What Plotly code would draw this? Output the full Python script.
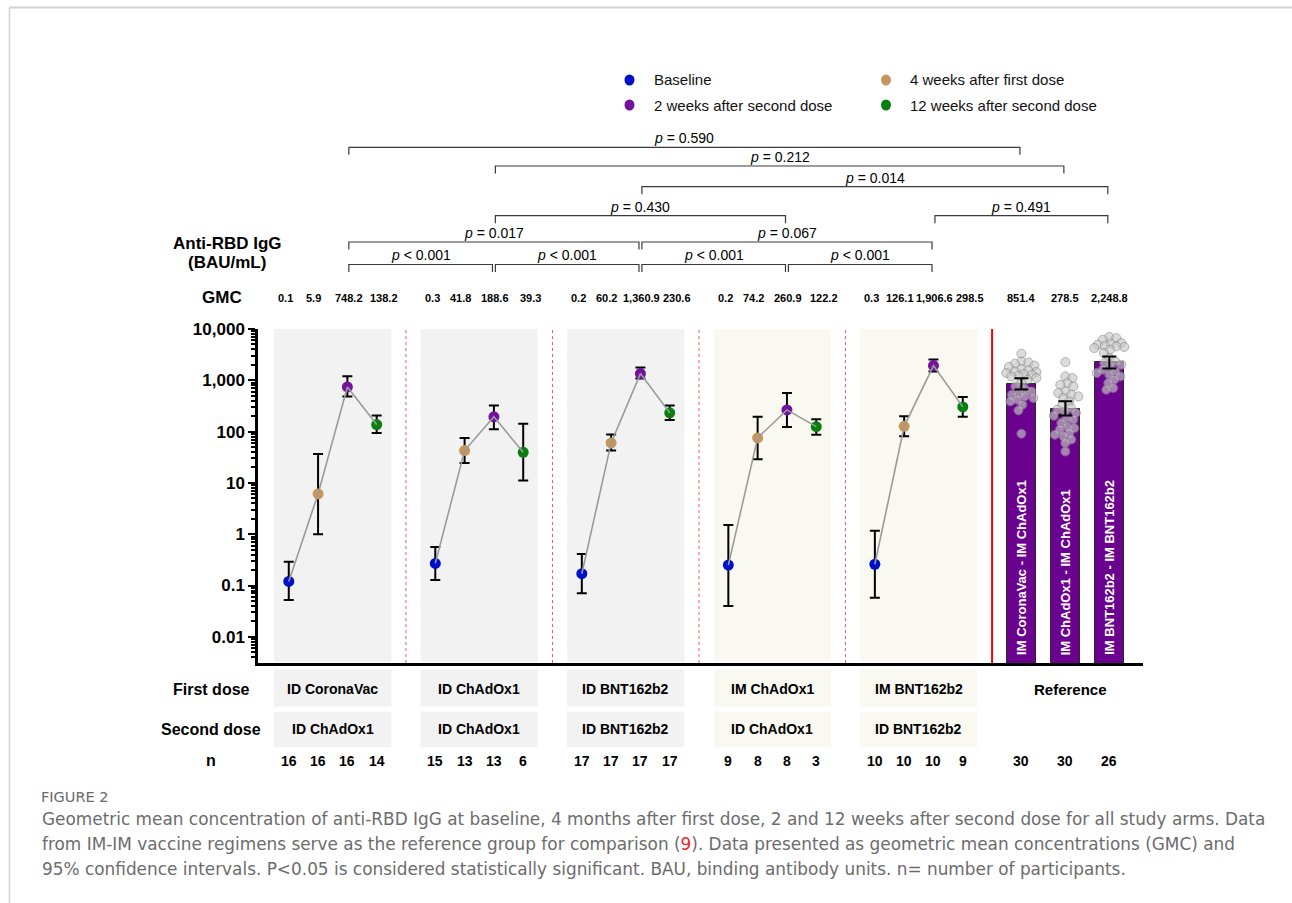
import math
import plotly.graph_objects as go

# ---------------- data ----------------
timepoints = ["Baseline", "4 weeks after first dose",
              "2 weeks after second dose", "12 weeks after second dose"]
first_dose = ["ID CoronaVac", "ID ChAdOx1", "ID BNT162b2", "IM ChAdOx1", "IM BNT162b2"]
second_dose = ["ID ChAdOx1", "ID ChAdOx1", "ID BNT162b2", "ID ChAdOx1", "ID BNT162b2"]

baseline = [0.12, 0.27, 0.17, 0.25, 0.26]
baseline_lo = [0.052, 0.128, 0.071, 0.040, 0.058]
baseline_hi = [0.29, 0.565, 0.41, 1.51, 1.17]
wk4_first = [6.1, 42.7, 60.3, 75.4, 127]
wk4_first_lo = [1.0, 24.5, 42.6, 28.8, 81]
wk4_first_hi = [36.7, 75, 87.5, 194, 199]
wk2_second = [743, 194, 1351, 265, 1936]
wk2_second_lo = [481, 111, 1080, 123, 1480]
wk2_second_hi = [1197, 321, 1770, 568, 2530]
wk12_second = [137, 39.5, 232, 125, 303]
wk12_second_lo = [94, 11.1, 169, 87, 194]
wk12_second_hi = [205, 143, 321, 174, 474]

gmc_labels = [["0.1", "5.9", "748.2", "138.2"],
              ["0.3", "41.8", "188.6", "39.3"],
              ["0.2", "60.2", "1,360.9", "230.6"],
              ["0.2", "74.2", "260.9", "122.2"],
              ["0.3", "126.1", "1,906.6", "298.5"]]
n_counts = [[16, 16, 16, 14], [15, 13, 13, 6], [17, 17, 17, 17], [9, 8, 8, 3], [10, 10, 10, 9]]

ref_names = ["IM CoronaVac - IM ChAdOx1", "IM ChAdOx1 - IM ChAdOx1", "IM BNT162b2 - IM BNT162b2"]
ref_gmc = [851.4, 278.5, 2248.8]
ref_gmc_labels = ["851.4", "278.5", "2,248.8"]
ref_lo = [659, 205, 1690]
ref_hi = [1094, 390, 2897]
ref_n = [30, 30, 26]
ref_individual = [
    [3300, 2330, 2230, 2110, 1930, 1820, 1660, 1560, 1490, 1450, 1390, 1330, 1290, 1230, 1190,
     1110, 1030, 885, 760, 676, 608, 565, 524, 486, 452, 419, 388, 334, 259, 91],
    [2270, 1190, 1110, 885, 820, 760, 608, 565, 524, 486, 452, 388, 334, 288, 267,
     248, 231, 204, 184, 171, 147, 126, 117, 109, 94, 87, 81, 70, 60, 41],
    [6970, 6660, 6180, 5330, 5170, 4940, 4730, 4590, 4460, 4260, 3950, 3400, 2720, 2330, 2170,
     2010, 1870, 1610, 1490, 1390, 1290, 1190, 1030, 885, 707, 655],
]

# comparisons: (left arm, right arm, label, bracket row)
comparisons = [
    ("g0", "g1", "p < 0.001", 0), ("g1", "g2", "p < 0.001", 0),
    ("g2", "g3", "p < 0.001", 0), ("g3", "g4", "p < 0.001", 0),
    ("g0", "g2", "p = 0.017", 1), ("g2", "g4", "p = 0.067", 1),
    ("g1", "g3", "p = 0.430", 2), ("g4", "r2", "p = 0.491", 2),
    ("g2", "r2", "p = 0.014", 3),
    ("g1", "r1", "p = 0.212", 4),
    ("g0", "r0", "p = 0.590", 5),
]

series_mid = [baseline, wk4_first, wk2_second, wk12_second]
series_lo = [baseline_lo, wk4_first_lo, wk2_second_lo, wk12_second_lo]
series_hi = [baseline_hi, wk4_first_hi, wk2_second_hi, wk12_second_hi]

# ---------------- styling / layout ----------------
tp_colors = ["#0010C8", "#C8965A", "#7412A0", "#0A7F10"]
bar_color = "#6B028F"
panel_fill = ["#F2F2F2", "#F2F2F2", "#F2F2F2", "#F9F8F1", "#F9F8F1"]
FONT = "Arial, Liberation Sans, sans-serif"
CAP_FONT = "DejaVu Sans, Open Sans, sans-serif"

W, H = 1292, 903
L, R, T, B = 258, 149, 329, 240
PW, PH = W - L - R, H - T - B
X0, X1 = -1.05, 29.15
Y0, Y1 = -2.51, 4.0
UNIT_PX = PW / (X1 - X0)
DEC_PX = PH / (Y1 - Y0)

GROUP_STEP = 5
ref_x = [25, 26.5, 28]
gmc_shift = [-0.1, -0.15, 0.05, 0.25]


def px_x(px):
    return (px - L) / PW


def px_y(py):
    return (H - B - py) / PH


def group_x(g, t):
    return GROUP_STEP * g + t


anchor_x = {f"g{g}": group_x(g, 2) for g in range(len(first_dose))}
anchor_x.update({f"r{i}": ref_x[i] for i in range(len(ref_x))})

fig = go.Figure()

# panel backgrounds, separators
shapes = []
for g in range(len(first_dose)):
    xa, xb = group_x(g, 0) - 0.5, group_x(g, 3) + 0.5
    shapes.append(dict(type="rect", xref="x", yref="paper", x0=xa, x1=xb, y0=0.004, y1=1,
                       fillcolor=panel_fill[g], line=dict(width=0), layer="below"))
    shapes.append(dict(type="rect", xref="x", yref="paper", x0=xa, x1=xb,
                       y0=px_y(706.7), y1=px_y(669.3), fillcolor=panel_fill[g],
                       line=dict(width=0), layer="below"))
    shapes.append(dict(type="rect", xref="x", yref="paper", x0=xa, x1=xb,
                       y0=px_y(747.3), y1=px_y(711.7), fillcolor=panel_fill[g],
                       line=dict(width=0), layer="below"))
    if g < len(first_dose) - 1:
        sep = group_x(g, 3) + (GROUP_STEP - 3) / 2
        shapes.append(dict(type="line", xref="x", yref="paper", x0=sep, x1=sep, y0=0, y1=1,
                           line=dict(color="#FF5A5A", width=1, dash="dot"), layer="below"))
# solid reference separator
shapes.append(dict(type="line", xref="x", yref="paper", x0=24, x1=24, y0=0, y1=1,
                   line=dict(color="#FF0000", width=2), layer="below"))

# ---------------- reference bars ----------------
fig.add_trace(go.Bar(x=ref_x, y=ref_gmc, width=1.0, marker=dict(color=bar_color,
                     line=dict(color="#2a2a2a", width=1)), showlegend=False, hoverinfo="skip"))


def swarm(values, mind=6.8, maxoff=15.0):
    ys = [math.log10(v) * DEC_PX for v in values]
    order = sorted(range(len(values)), key=lambda i: -values[i])
    cands = [0.0]
    k = 1
    while k * 0.5 <= maxoff:
        cands += [k * 0.5, -k * 0.5]
        k += 1
    placed = []
    offs = [0.0] * len(values)
    for i in order:
        best, bestd, bsel = None, -1, 0.0
        for s in cands:
            d = min([math.hypot(s - ox, ys[i] - oy) for ox, oy in placed] or [1e9])
            if d >= mind:
                best = s
                break
            if d > bestd:
                bestd, bsel = d, s
        if best is None:
            best = bsel
        placed.append((best, ys[i]))
        offs[i] = best / UNIT_PX
    return offs


for i, vals in enumerate(ref_individual):
    offs = swarm(vals)
    fig.add_trace(go.Scatter(x=[ref_x[i] + o for o in offs], y=vals, mode="markers",
                             marker=dict(size=9, color="rgb(200,200,200)", opacity=0.65,
                                         line=dict(color="rgb(135,135,135)", width=1)),
                             showlegend=False, hoverinfo="skip"))

fig.add_trace(go.Scatter(x=ref_x, y=ref_gmc, mode="markers", marker=dict(size=1, opacity=0),
                         error_y=dict(type="data", symmetric=False,
                                      array=[h - m for h, m in zip(ref_hi, ref_gmc)],
                                      arrayminus=[m - lo for m, lo in zip(ref_gmc, ref_lo)],
                                      color="black", thickness=2, width=7),
                         showlegend=False, hoverinfo="skip"))

# ---------------- time-course points ----------------
for t, name in enumerate(timepoints):
    xs = [group_x(g, t) for g in range(len(first_dose))]
    mid, lo, hi = series_mid[t], series_lo[t], series_hi[t]
    fig.add_trace(go.Scatter(
        x=xs, y=mid, mode="markers", name=name,
        marker=dict(size=11, color=tp_colors[t]),
        error_y=dict(type="data", symmetric=False,
                     array=[h - m for h, m in zip(hi, mid)],
                     arrayminus=[m - l_ for m, l_ in zip(mid, lo)],
                     color="black", thickness=2, width=5),
        showlegend=False))

for g in range(len(first_dose)):
    fig.add_trace(go.Scatter(x=[group_x(g, t) for t in range(4)],
                             y=[series_mid[t][g] for t in range(4)], mode="lines",
                             line=dict(color="#9a9a9a", width=1.6),
                             showlegend=False, hoverinfo="skip"))

# ---------------- annotations ----------------
ann = []


def txt(x, y, text, size, xref="x", bold=False, color="black", xanchor="center",
        family=FONT, **kw):
    ann.append(dict(x=x, y=y, xref=xref, yref="paper", text=(f"<b>{text}</b>" if bold else text),
                    showarrow=False, xanchor=xanchor, yanchor=kw.pop("yanchor", "middle"),
                    font=dict(size=size, color=color, family=family), **kw))


# legend (manual, two columns)
leg_pos = [(629.5, 80), (886, 80), (629.5, 105), (886, 105)]
for t in range(len(timepoints)):
    lx, ly = leg_pos[t]
    shapes.append(dict(type="circle", xref="paper", yref="paper",
                       xsizemode="pixel", ysizemode="pixel",
                       xanchor=px_x(lx), yanchor=px_y(ly), x0=-5, x1=5, y0=-5.5, y1=5.5,
                       fillcolor=tp_colors[t], line=dict(width=0)))
    txt(px_x(lx + 22), px_y(ly), timepoints[t], 15, xref="paper", xanchor="left", color="#111")

# brackets
row_y = [264.5, 242, 215.7, 186.7, 166, 147.3]
LEG = 7.5
for a, b, lab, row in comparisons:
    xa, xb = anchor_x[a] + 0.05, anchor_x[b] - 0.05
    yl = px_y(row_y[row])
    yb = px_y(row_y[row] + LEG)
    shapes.append(dict(type="path", xref="x", yref="paper",
                       path=f"M {xa},{yb} L {xa},{yl} L {xb},{yl} L {xb},{yb}",
                       line=dict(color="#3a3a3a", width=1.2)))
    p_lab = lab.replace("p ", "<i>p</i> ", 1)
    txt((xa + xb) / 2, px_y(row_y[row] - 9), p_lab, 14)

# axis title and row labels
txt(px_x(227), px_y(243.5), "Anti-RBD IgG", 17, xref="paper", bold=True)
txt(px_x(227), px_y(262), "(BAU/mL)", 17, xref="paper", bold=True)
txt(px_x(222), px_y(297.5), "GMC", 17, xref="paper", bold=True)
txt(px_x(211), px_y(689.3), "First dose", 16, xref="paper", bold=True)
txt(px_x(211), px_y(729.3), "Second dose", 16, xref="paper", bold=True)
txt(px_x(211), px_y(760.5), "n", 16, xref="paper", bold=True)

for g in range(len(first_dose)):
    for t in range(4):
        txt(group_x(g, t) + gmc_shift[t], px_y(298), gmc_labels[g][t], 11, bold=True)
        txt(group_x(g, t), px_y(760.5), str(n_counts[g][t]), 14, bold=True)
    cx = (group_x(g, 0) + group_x(g, 3)) / 2
    txt(cx, px_y(689.3), first_dose[g], 14, bold=True)
    txt(cx, px_y(729.3), second_dose[g], 14, bold=True)

for i in range(len(ref_x)):
    txt(ref_x[i], px_y(298), ref_gmc_labels[i], 11, bold=True)
    txt(ref_x[i], px_y(760.5), str(ref_n[i]), 14, bold=True)
    ann.append(dict(x=ref_x[i], y=px_y(657), xref="x", yref="paper", text=f"<b>{ref_names[i]}</b>",
                    textangle=-90, showarrow=False, xanchor="center", yanchor="bottom",
                    font=dict(size=13, color="white", family=FONT)))
txt(px_x(1070), px_y(689.3), "Reference", 15, xref="paper", bold=True)

# caption
txt(px_x(39), px_y(797), "FIGURE 2", 14.5, xref="paper", xanchor="left", color="#6a6a6a",
    family=CAP_FONT)
cap_lines = [
    "Geometric mean concentration of anti-RBD IgG at baseline, 4 months after first dose, 2 and 12 weeks after second dose for all study arms. Data",
    "from IM-IM vaccine regimens serve as the reference group for comparison (<span style='color:#E8272A'>9</span>). Data presented as geometric mean concentrations (GMC) and",
    "95% confidence intervals. P&lt;0.05 is considered statistically significant. BAU, binding antibody units. n= number of participants.",
]
for k, line in enumerate(cap_lines):
    txt(px_x(40), px_y(819 + 25 * k), line, 16.9, xref="paper", xanchor="left", color="#6c6c6c",
        family=CAP_FONT)

# page frame lines
shapes.append(dict(type="line", xref="paper", yref="paper", x0=px_x(9.5), x1=px_x(1292),
                   y0=px_y(7.5), y1=px_y(7.5), line=dict(color="#d2d2d2", width=2)))
shapes.append(dict(type="line", xref="paper", yref="paper", x0=px_x(9.5), x1=px_x(9.5),
                   y0=px_y(7.5), y1=px_y(903), line=dict(color="#d2d2d2", width=1.5)))

major = [0.01, 0.1, 1, 10, 100, 1000, 10000]
major_txt = ["0.01", "0.1", "1", "10", "100", "1,000", "10,000"]
minor = [m * 10 ** e for e in range(-3, 4) for m in range(2, 10)
         if Y0 <= math.log10(m * 10 ** e) <= Y1]

fig.update_layout(
    width=W, height=H, margin=dict(l=L, r=R, t=T, b=B, autoexpand=False),
    paper_bgcolor="white", plot_bgcolor="white", showlegend=False,
    shapes=shapes, annotations=ann, bargap=0,
    font=dict(family=FONT, color="black"),
    xaxis=dict(range=[X0, X1], showticklabels=False, ticks="", showgrid=False, zeroline=False,
               showline=True, linecolor="black", linewidth=2.5, fixedrange=True),
    yaxis=dict(type="log", range=[Y0, Y1], tickvals=major, ticktext=major_txt, ticks="outside",
               ticklen=7, tickwidth=2, tickcolor="black", showgrid=False, zeroline=False,
               showline=True, linecolor="black", linewidth=2.5,
               tickfont=dict(size=17, family=FONT, color="black", weight="bold"),
               minor=dict(tickvals=minor, ticks="outside", ticklen=4, tickwidth=1.5,
                          tickcolor="black", showgrid=False)),
)

fig.write_html("out.html", config={"displayModeBar": False},
               post_script="document.body.style.margin='0';")
